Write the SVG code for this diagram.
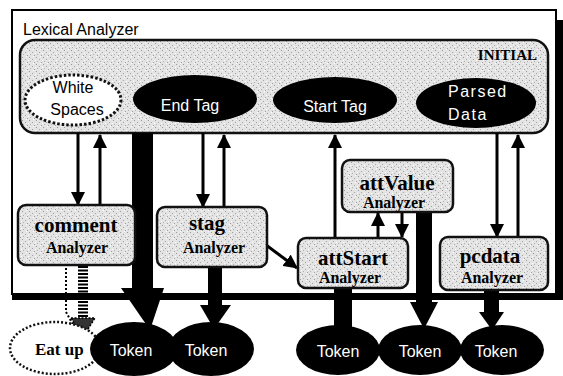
<svg xmlns="http://www.w3.org/2000/svg" width="563" height="376" viewBox="0 0 563 376">
<defs>
<pattern id="noise" width="7" height="7" patternUnits="userSpaceOnUse">
<rect width="7" height="7" fill="#e4e4e4"/>
<rect x="1" y="1" width="1" height="1" fill="#999"/>
<rect x="4" y="3" width="1" height="1" fill="#a5a5a5"/>
<rect x="2" y="5" width="1" height="1" fill="#b0b0b0"/>
<rect x="6" y="6" width="1" height="1" fill="#a0a0a0"/>
<rect x="5" y="0" width="1" height="1" fill="#fff"/>
<rect x="0" y="4" width="1" height="1" fill="#fff"/>
</pattern>
<marker id="ah" viewBox="0 0 14 14" refX="13" refY="7" markerWidth="14" markerHeight="14" markerUnits="userSpaceOnUse" orient="auto">
<path d="M0,0 L14,7 L0,14 z" fill="#000"/>
</marker>
</defs>
<style>
.frame{fill:#fff;stroke:#000;stroke-width:2}
.box{fill:url(#noise);stroke:#111;stroke-width:2.5}
.ell{fill:#000}
.wt{font-family:"Liberation Sans",Arial,sans-serif;fill:#fff;font-size:16px}
.title{font-family:"Liberation Serif","Times New Roman",serif;font-weight:bold;font-size:21px;fill:#000;text-anchor:middle}
.sub{font-family:"Liberation Serif","Times New Roman",serif;font-weight:bold;font-size:16px;fill:#000;text-anchor:middle}
.thin{stroke:#000;stroke-width:3;fill:none;marker-end:url(#ah)}
.thick{fill:#000}
</style>

<g id="lexical-analyzer">
<rect x="12" y="20" width="551" height="280" fill="#000"/>
<rect class="frame" x="12" y="10" width="544" height="284"/>
<text x="23" y="35" font-family="Liberation Sans,Arial,sans-serif" font-size="16" fill="#000">Lexical Analyzer</text>
</g>

<g id="initial">
<rect class="box" x="20" y="40" width="528" height="93" rx="15" ry="15" stroke-width="3"/>
<text x="537" y="60" font-family="Liberation Serif,'Times New Roman',serif" font-weight="bold" font-size="15" text-anchor="end">INITIAL</text>
</g>

<g id="white-spaces">
<ellipse cx="73" cy="100" rx="48" ry="25" fill="#fff" stroke="#111" stroke-width="3" stroke-dasharray="2.5 2"/>
<text class="wt" x="73" y="93" text-anchor="middle" style="fill:#000">White</text>
<text class="wt" x="77" y="115" text-anchor="middle" style="fill:#000">Spaces</text>
</g>

<g id="end-tag">
<ellipse class="ell" cx="195" cy="99" rx="62" ry="24"/>
<text class="wt" x="190" y="111" text-anchor="middle">End Tag</text>
</g>

<g id="start-tag">
<ellipse class="ell" cx="335" cy="100" rx="62" ry="23"/>
<text class="wt" x="335" y="112" text-anchor="middle">Start Tag</text>
</g>

<g id="parsed-data">
<ellipse class="ell" cx="476" cy="103" rx="60" ry="25"/>
<text class="wt" x="448" y="97" letter-spacing="1.5">Parsed</text>
<text class="wt" x="448" y="120" letter-spacing="1.5">Data</text>
</g>

<g id="connectors">
<line class="thin" x1="78" y1="133" x2="78" y2="205"/>
<line class="thin" x1="100" y1="205" x2="100" y2="135"/>
<line class="thin" x1="203" y1="133" x2="203" y2="207"/>
<line class="thin" x1="224" y1="207" x2="224" y2="135"/>
<line class="thin" x1="335" y1="238" x2="335" y2="135"/>
<line class="thin" x1="378" y1="238" x2="378" y2="213"/>
<line class="thin" x1="402" y1="212" x2="402" y2="237"/>
<line class="thin" x1="497" y1="133" x2="497" y2="237"/>
<line class="thin" x1="518" y1="237" x2="518" y2="135"/>
<line class="thin" x1="262" y1="242" x2="297" y2="268"/>
<rect class="thick" x="132" y="133" width="21" height="157"/>
<polygon class="thick" points="121,288 164,288 150,330"/>
<rect class="thick" x="208" y="267" width="14" height="42"/>
<polygon class="thick" points="200,305 231,305 214,329"/>
<rect class="thick" x="334" y="288" width="18" height="40"/>
<rect class="thick" x="416" y="212" width="16" height="92"/>
<polygon class="thick" points="410,302 438,302 424,329"/>
<rect class="thick" x="484" y="290" width="15" height="26"/>
<polygon class="thick" points="479,312 504,312 492,330"/>
<line x1="83" y1="266" x2="83" y2="318" stroke="#000" stroke-width="10" stroke-dasharray="2 1.5"/>
<polyline points="66,268 66,312 76,330" fill="none" stroke="#000" stroke-width="2" stroke-dasharray="2 2"/>
<polygon points="71,318 95,318 83,337" fill="#333" stroke="#000" stroke-width="1.5" stroke-dasharray="2 1.5"/>
</g>

<g id="comment-analyzer">
<rect class="box" x="18" y="205" width="117" height="60" rx="8"/>
<text class="title" x="76" y="232">comment</text>
<text class="sub" x="77" y="253">Analyzer</text>
</g>

<g id="stag-analyzer">
<rect class="box" x="157" y="207" width="110" height="60" rx="8"/>
<text class="title" x="207" y="230">stag</text>
<text class="sub" x="214" y="253">Analyzer</text>
</g>

<g id="attvalue-analyzer">
<rect class="box" x="342" y="160" width="111" height="52" rx="8"/>
<text class="title" x="397" y="190">attValue</text>
<text class="sub" x="394" y="208">Analyzer</text>
</g>

<g id="attstart-analyzer">
<rect class="box" x="298" y="238" width="110" height="50" rx="8"/>
<text class="title" x="353" y="265">attStart</text>
<text class="sub" x="350" y="283">Analyzer</text>
</g>

<g id="pcdata-analyzer">
<rect class="box" x="440" y="237" width="108" height="53" rx="8"/>
<text class="title" x="490" y="263">pcdata</text>
<text class="sub" x="492" y="283">Analyzer</text>
</g>

<g id="eat-up">
<ellipse cx="55" cy="348" rx="45" ry="26" fill="#fff" stroke="#111" stroke-width="2.5" stroke-dasharray="2 2"/>
<text x="35" y="355" font-family="Liberation Serif,'Times New Roman',serif" font-weight="bold" font-size="17">Eat up</text>
</g>

<g id="token-1">
<ellipse class="ell" cx="134" cy="349" rx="44" ry="27"/>
<text class="wt" x="131" y="356" text-anchor="middle">Token</text>
</g>
<g id="token-2">
<ellipse class="ell" cx="211" cy="349" rx="43" ry="27"/>
<text class="wt" x="206" y="356" text-anchor="middle">Token</text>
</g>
<g id="token-3">
<ellipse class="ell" cx="338" cy="350" rx="42" ry="25"/>
<text class="wt" x="338" y="357" text-anchor="middle">Token</text>
</g>
<g id="token-4">
<ellipse class="ell" cx="420" cy="350" rx="42" ry="25"/>
<text class="wt" x="420" y="357" text-anchor="middle">Token</text>
</g>
<g id="token-5">
<ellipse class="ell" cx="502" cy="350" rx="42" ry="25"/>
<text class="wt" x="496" y="357" text-anchor="middle">Token</text>
</g>
</svg>
